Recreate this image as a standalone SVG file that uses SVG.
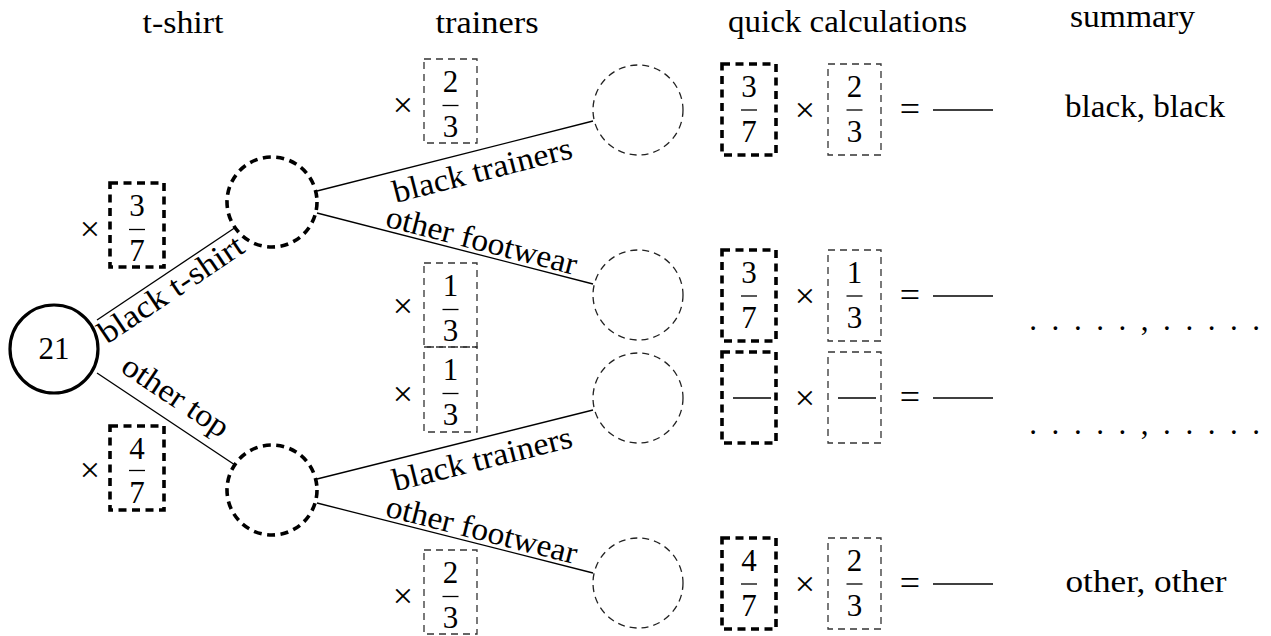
<svg xmlns="http://www.w3.org/2000/svg" width="1271" height="636" viewBox="0 0 1271 636">
<style>
.t{font-family:"Liberation Serif","DejaVu Serif",serif;font-size:31px;fill:#000}
.l{font-size:32px}
.op{font-size:36px}
.m{text-anchor:middle}
.root{fill:#fff;stroke:#000;stroke-width:3.2}
.thickc{fill:#fff;stroke:#000;stroke-width:3.6;stroke-dasharray:8 5.5}
.thinc{fill:#fff;stroke:#222;stroke-width:1.3;stroke-dasharray:7 5}
.thickb{fill:none;stroke:#000;stroke-width:3.6;stroke-dasharray:8 5.5}
.thinb{fill:none;stroke:#333;stroke-width:1.3;stroke-dasharray:7 5}
.bar{stroke:#000;stroke-width:1.3}
.edge{stroke:#000;stroke-width:1.3;fill:none}
</style>

<g id="headings">
<text class="t l m" x="183" y="33" textLength="81" lengthAdjust="spacingAndGlyphs">t-shirt</text>
<text class="t l m" x="487" y="33" textLength="103" lengthAdjust="spacingAndGlyphs">trainers</text>
<text class="t l m" x="847.5" y="32" textLength="239" lengthAdjust="spacingAndGlyphs">quick calculations</text>
<text class="t l m" x="1132.5" y="27" textLength="125" lengthAdjust="spacingAndGlyphs">summary</text>
</g>

<g id="connectors">
<line class="edge" x1="97" y1="320" x2="236" y2="227"/>
<line class="edge" x1="97" y1="373" x2="235" y2="465"/>
<line class="edge" x1="317" y1="191" x2="593" y2="121"/>
<line class="edge" x1="317" y1="213" x2="593" y2="284"/>
<line class="edge" x1="317" y1="479" x2="593" y2="410"/>
<line class="edge" x1="317" y1="503" x2="593" y2="573"/>
<text class="t l m" transform="translate(166.5,273.5) rotate(-33.8)" x="-5" y="26" textLength="168" lengthAdjust="spacingAndGlyphs">black t-shirt</text>
<text class="t l m" transform="translate(166,419) rotate(33.7)" x="-4.5" y="-14" textLength="122" lengthAdjust="spacingAndGlyphs">other top</text>
<text class="t l m" transform="translate(455,156) rotate(-14.23)" x="23" y="31" textLength="184" lengthAdjust="spacingAndGlyphs">black trainers</text>
<text class="t l m" transform="translate(455,248.5) rotate(14.43)" x="24" y="-4" textLength="196" lengthAdjust="spacingAndGlyphs">other footwear</text>
<text class="t l m" transform="translate(455,444.5) rotate(-14.04)" x="23" y="31" textLength="184" lengthAdjust="spacingAndGlyphs">black trainers</text>
<text class="t l m" transform="translate(455,538) rotate(14.23)" x="24" y="-4" textLength="196" lengthAdjust="spacingAndGlyphs">other footwear</text>
</g>

<g id="root">
<circle class="root" cx="54" cy="349" r="44"/>
<text class="t m" x="54" y="359">21</text>
</g>

<g id="tshirt-black">
<circle class="thickc" cx="272" cy="202" r="45"/>
</g>
<g id="tshirt-other">
<circle class="thickc" cx="272" cy="490" r="45"/>
</g>

<g id="trainer-1"><circle class="thinc" cx="638" cy="110" r="45"/></g>
<g id="trainer-2"><circle class="thinc" cx="638" cy="295" r="45"/></g>
<g id="trainer-3"><circle class="thinc" cx="638" cy="398" r="45"/></g>
<g id="trainer-4"><circle class="thinc" cx="638" cy="583" r="45"/></g>

<g id="prob-tshirt-black">
<text class="t op m" x="90" y="241">×</text>
<rect class="thickb" x="110" y="183" width="54" height="84"/>
<text class="t m" x="137" y="216">3</text>
<line class="bar" x1="129" y1="229.5" x2="145" y2="229.5"/>
<text class="t m" x="137" y="261">7</text>
</g>
<g id="prob-tshirt-other">
<text class="t op m" x="90" y="482">×</text>
<rect class="thickb" x="110" y="426" width="54" height="84"/>
<text class="t m" x="137" y="459">4</text>
<line class="bar" x1="129" y1="470.5" x2="145" y2="470.5"/>
<text class="t m" x="137" y="503">7</text>
</g>

<g id="prob-trainer-1">
<text class="t op m" x="403" y="117">×</text>
<rect class="thinb" x="424" y="59" width="53" height="84"/>
<text class="t m" x="450.5" y="92">2</text>
<line class="bar" x1="442.5" y1="105.5" x2="458.5" y2="105.5"/>
<text class="t m" x="450.5" y="137">3</text>
</g>
<g id="prob-trainer-2">
<text class="t op m" x="403" y="318">×</text>
<rect class="thinb" x="424" y="263" width="53" height="84"/>
<text class="t m" x="450.5" y="296">1</text>
<line class="bar" x1="442.5" y1="309.5" x2="458.5" y2="309.5"/>
<text class="t m" x="450.5" y="341">3</text>
</g>
<g id="prob-trainer-3">
<text class="t op m" x="403" y="406">×</text>
<rect class="thinb" x="424" y="347" width="53" height="85"/>
<text class="t m" x="450.5" y="380">1</text>
<line class="bar" x1="442.5" y1="393.5" x2="458.5" y2="393.5"/>
<text class="t m" x="450.5" y="425">3</text>
</g>
<g id="prob-trainer-4">
<text class="t op m" x="403" y="608">×</text>
<rect class="thinb" x="424" y="550" width="53" height="84"/>
<text class="t m" x="450.5" y="583">2</text>
<line class="bar" x1="442.5" y1="596.5" x2="458.5" y2="596.5"/>
<text class="t m" x="450.5" y="628">3</text>
</g>

<g id="calc-1">
<rect class="thickb" x="722" y="64" width="54" height="91"/>
<text class="t m" x="749" y="97">3</text>
<line class="bar" x1="741" y1="110" x2="757" y2="110"/>
<text class="t m" x="749" y="142">7</text>
<text class="t op m" x="805" y="121.5">×</text>
<rect class="thinb" x="828" y="64" width="53" height="91"/>
<text class="t m" x="854.5" y="97">2</text>
<line class="bar" x1="846.5" y1="110" x2="862.5" y2="110"/>
<text class="t m" x="854.5" y="142">3</text>
<text class="t op m" x="910" y="120.5">=</text>
<line class="bar" x1="933" y1="110" x2="993" y2="110"/>
</g>
<g id="calc-2">
<rect class="thickb" x="722" y="250" width="54" height="91"/>
<text class="t m" x="749" y="283">3</text>
<line class="bar" x1="741" y1="296" x2="757" y2="296"/>
<text class="t m" x="749" y="328">7</text>
<text class="t op m" x="805" y="307.5">×</text>
<rect class="thinb" x="828" y="250" width="53" height="91"/>
<text class="t m" x="854.5" y="283">1</text>
<line class="bar" x1="846.5" y1="296" x2="862.5" y2="296"/>
<text class="t m" x="854.5" y="328">3</text>
<text class="t op m" x="910" y="306.5">=</text>
<line class="bar" x1="933" y1="296" x2="993" y2="296"/>
</g>
<g id="calc-3">
<rect class="thickb" x="722" y="352" width="54" height="91"/>
<line class="bar" x1="733" y1="398" x2="771" y2="398"/>
<text class="t op m" x="805" y="409.5">×</text>
<rect class="thinb" x="828" y="352" width="53" height="91"/>
<line class="bar" x1="838" y1="398" x2="876" y2="398"/>
<text class="t op m" x="910" y="408.5">=</text>
<line class="bar" x1="933" y1="398" x2="993" y2="398"/>
</g>
<g id="calc-4">
<rect class="thickb" x="722" y="538" width="54" height="91"/>
<text class="t m" x="749" y="571">4</text>
<line class="bar" x1="741" y1="584" x2="757" y2="584"/>
<text class="t m" x="749" y="616">7</text>
<text class="t op m" x="805" y="595.5">×</text>
<rect class="thinb" x="828" y="538" width="53" height="91"/>
<text class="t m" x="854.5" y="571">2</text>
<line class="bar" x1="846.5" y1="584" x2="862.5" y2="584"/>
<text class="t m" x="854.5" y="616">3</text>
<text class="t op m" x="910" y="594.5">=</text>
<line class="bar" x1="933" y1="584" x2="993" y2="584"/>
</g>

<g id="summary">
<text class="t l m" x="1145" y="117" textLength="160" lengthAdjust="spacingAndGlyphs">black, black</text>
<text class="t" x="1029.3 1051.6 1073.9 1096.2 1118.5 1140.8 1163.1 1185.4 1207.7 1230 1252.3" y="330">.....,.....</text>
<text class="t" x="1029.3 1051.6 1073.9 1096.2 1118.5 1140.8 1163.1 1185.4 1207.7 1230 1252.3" y="434">.....,.....</text>
<text class="t l m" x="1146" y="592" textLength="161" lengthAdjust="spacingAndGlyphs">other, other</text>
</g>
</svg>
